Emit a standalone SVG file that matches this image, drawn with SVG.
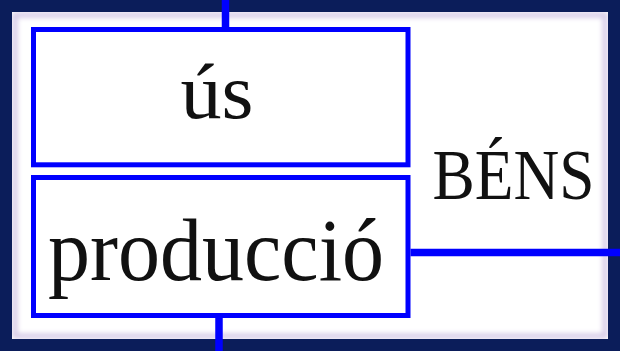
<svg xmlns="http://www.w3.org/2000/svg" width="620" height="351" viewBox="0 0 620 351">
  <defs>
    <filter id="soft" x="-5%" y="-5%" width="110%" height="110%">
      <feGaussianBlur stdDeviation="2.5"/>
    </filter>
    <style>
      .box { fill: none; stroke: #0000ff; stroke-width: 5; }
      .conn { stroke: #0000ff; stroke-width: 7.5; fill: none; }
      .lbl { font-family: "Liberation Serif", "Times New Roman", serif; fill: #111; text-anchor: middle; }
    </style>
  </defs>
  <rect x="0" y="0" width="620" height="351" fill="#ffffff"/>
  <g id="bens">
    <rect x="15" y="15" width="590" height="321" fill="none" stroke="#d4c8e6" stroke-width="5" filter="url(#soft)"/>
    <rect x="6" y="6" width="608" height="339" fill="none" stroke="#0b1d5a" stroke-width="12"/>
    <text class="lbl" x="513.5" y="199" font-size="72" textLength="162" lengthAdjust="spacingAndGlyphs">BÉNS</text>
  </g>
  <g id="us">
    <rect class="box" x="33.5" y="29.5" width="374.5" height="135.3"/>
    <text class="lbl" x="217" y="118" font-size="78" textLength="73" lengthAdjust="spacingAndGlyphs">ús</text>
  </g>
  <g id="produccio">
    <rect class="box" x="33.5" y="177.5" width="374.5" height="138"/>
    <text class="lbl" x="216" y="280" font-size="88" textLength="336" lengthAdjust="spacingAndGlyphs">producció</text>
  </g>
  <g id="connectors">
    <line class="conn" x1="225.5" y1="0" x2="225.5" y2="27"/>
    <line class="conn" x1="219" y1="318" x2="219" y2="351"/>
    <line class="conn" x1="410.5" y1="252.5" x2="620" y2="252.5" stroke-width="8"/>
  </g>
</svg>
